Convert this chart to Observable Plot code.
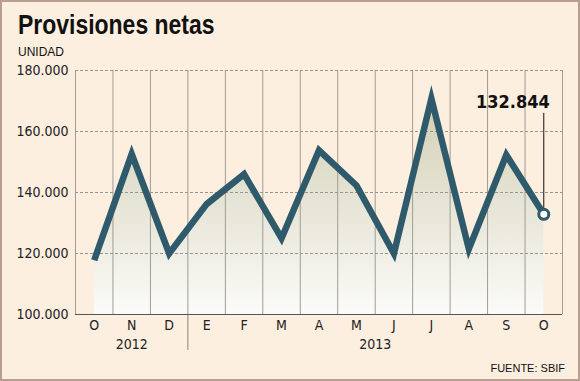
<!DOCTYPE html>
<html>
<head>
<meta charset="utf-8">
<script src="https://cdn.jsdelivr.net/npm/d3@7"></script>
<script src="https://cdn.jsdelivr.net/npm/@observablehq/plot@0.6"></script>
<style>
  html, body { margin: 0; padding: 0; background: #fcefdf; }
  #wrap { position: relative; width: 580px; height: 381px; background: #fcefdf; overflow: hidden; }
  #frame { position: absolute; left: 0; top: 0; width: 580px; height: 381px; box-sizing: border-box; border: 2px solid #b89e8e; pointer-events: none; }
  #title { position: absolute; left: 18px; top: 9px; font-family: "Liberation Sans", "DejaVu Sans", sans-serif; font-weight: bold; font-size: 28px; line-height: 32px; color: #111; white-space: nowrap; transform: scaleX(0.82); transform-origin: 0 0; }
  #unit { position: absolute; left: 18px; top: 45px; font-family: "Liberation Sans", sans-serif; font-size: 12px; line-height: 14px; color: #111; }
  #source { position: absolute; right: 15px; top: 362px; font-family: "Liberation Sans", sans-serif; font-size: 11px; line-height: 13px; color: #111; }
  #chart { position: absolute; left: 0; top: 60px; }
  #chart [aria-label^="x-axis"] text { font-size: 14px; }
</style>
</head>
<body>
<div id="wrap">
  <div id="title">Provisiones netas</div>
  <div id="unit">UNIDAD</div>
  <div id="chart"></div>
  <div id="source">FUENTE: SBIF</div>
  <div id="frame"></div>
</div>
<script>
const months = ["O", "N", "D", "E", "F", "M", "A", "M", "J", "J", "A", "S", "O"];
const values = [117800, 152600, 120000, 136200, 146000, 125000, 153800, 142300, 120000, 170800, 121500, 152300, 132844];
const years = ["2012", "2013"];
const yearCenters = [1, 7.5];
const yearSeparator = [2.5];
const yTicks = [100000, 120000, 140000, 160000, 180000];

const data = months.map((m, i) => ({i, m, v: values[i]}));
const last = data[data.length - 1];
const boundaries = d3.range(-0.5, months.length, 1);
const fmt = d3.formatLocale({decimal: ",", thousands: ".", grouping: [3], currency: ["$", ""]}).format(",d");

const gradient = () => {
  const defs = d3.create("svg:defs");
  const g = defs.append("linearGradient")
    .attr("id", "areaGrad").attr("gradientUnits", "userSpaceOnUse")
    .attr("x1", 0).attr("x2", 0).attr("y1", 10).attr("y2", 254);
  g.append("stop").attr("offset", "0%").attr("stop-color", "#cdc9ab");
  g.append("stop").attr("offset", "100%").attr("stop-color", "#fbfbf9");
  return defs.node();
};

const font = "'DejaVu Sans Condensed', 'DejaVu Sans', sans-serif";

const plot = Plot.plot({
  width: 580,
  height: 321,
  marginLeft: 75,
  marginRight: 18,
  marginTop: 10,
  marginBottom: 67,
  style: {background: "transparent", fontFamily: font, fontSize: "14px", color: "#222", overflow: "visible"},
  x: {type: "linear", domain: [-0.5, months.length - 0.5], ticks: d3.range(months.length), tickFormat: i => months[i], tickSize: 0, tickPadding: 6, label: null},
  y: {domain: [100000, 180000], ticks: yTicks, tickFormat: fmt, tickSize: 0, tickPadding: 7, label: null},
  marks: [
    gradient,
    Plot.areaY(data, {x: "i", y1: 100000, y2: "v", fill: "url(#areaGrad)"}),
    Plot.ruleX(boundaries, {stroke: "#a39b94", strokeWidth: 1}),
    Plot.ruleY(yTicks.filter(t => t > 100000), {stroke: "#9a948e", strokeDasharray: "3,2", strokeWidth: 1}),
    Plot.ruleX(yearSeparator, {y1: 100000, y2: 100000, insetBottom: -36, stroke: "#8a8480"}),
    Plot.ruleY([100000], {stroke: "#555", strokeWidth: 1.2}),
    Plot.line(data, {x: "i", y: "v", stroke: "#2f5a6b", strokeWidth: 6.5, strokeLinejoin: "miter", strokeLinecap: "butt", strokeMiterlimit: 10}),
    Plot.ruleX([last], {x: "i", y1: "v", y2: "v", insetTop: -101, insetBottom: 6, stroke: "#111", strokeWidth: 1}),
    Plot.dot([last], {x: "i", y: "v", r: 5, fill: "white", stroke: "#2f5a6b", strokeWidth: 3}),
    Plot.text([last], {x: "i", y: "v", text: d => fmt(d.v), dy: -112, dx: 6, textAnchor: "end", fontWeight: "bold", fontSize: 18, fill: "#111", fontFamily: "'DejaVu Sans Condensed', 'DejaVu Sans', sans-serif"}),
    Plot.text(years, {x: (d, k) => yearCenters[k], frameAnchor: "bottom", dy: 34, fontSize: 14, fill: "#222"})
  ]
});
document.getElementById("chart").appendChild(plot);
</script>
</body>
</html>
